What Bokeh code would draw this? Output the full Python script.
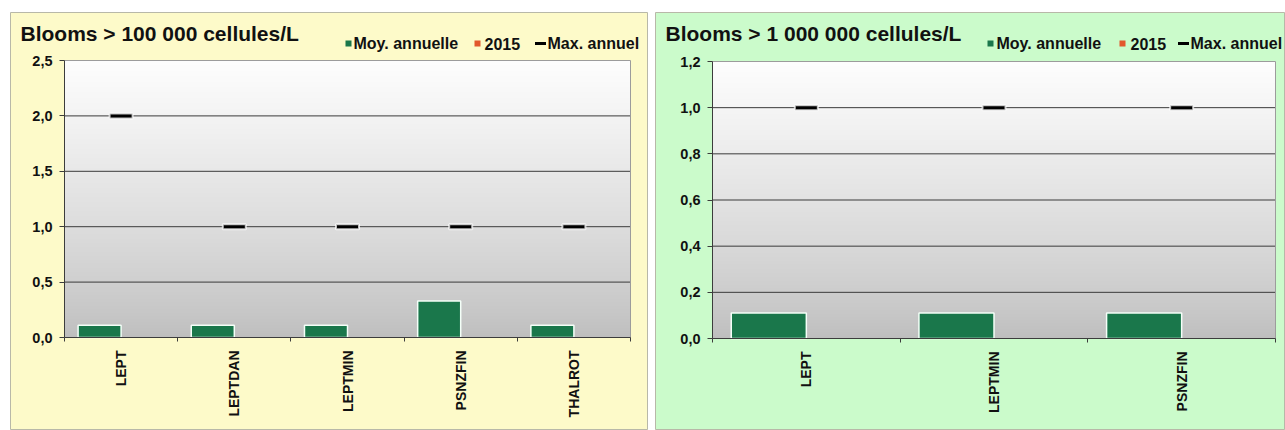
import numpy as np
from bokeh.plotting import figure
from bokeh.models import Range1d, FixedTicker, Label
from bokeh.layouts import row
from bokeh.embed import file_html
from bokeh.resources import INLINE

# ---------------- data ----------------
left_title = "Blooms > 100 000 cellules/L"
left_categories = ["LEPT", "LEPTDAN", "LEPTMIN", "PSNZFIN", "THALROT"]
left_mean = [0.11, 0.11, 0.11, 0.33, 0.11]
left_2015 = [0, 0, 0, 0, 0]
left_max = [2, 1, 1, 1, 1]
left_yticks = [0.0, 0.5, 1.0, 1.5, 2.0, 2.5]
left_ytick_labels = ["0,0", "0,5", "1,0", "1,5", "2,0", "2,5"]

right_title = "Blooms > 1 000 000 cellules/L"
right_categories = ["LEPT", "LEPTMIN", "PSNZFIN"]
right_mean = [0.11, 0.11, 0.11]
right_2015 = [0, 0, 0]
right_max = [1, 1, 1]
right_yticks = [0.0, 0.2, 0.4, 0.6, 0.8, 1.0, 1.2]
right_ytick_labels = ["0,0", "0,2", "0,4", "0,6", "0,8", "1,0", "1,2"]

legend_labels = ["Moy. annuelle", "2015", "Max. annuel"]

# ---------------- style ----------------
FONT = "Liberation Sans"
MEAN_COLOR = "#1a774b"
Y2015_COLOR = "#e2572c"
MAX_COLOR = "#000000"
AXIS_COLOR = "#3c3c3c"
GRID_COLOR = "#3a3a3a"
TEXT_COLOR = "#111111"


def gradient_image():
    # vertical grey ramp, row 0 = bottom of the plot area
    n = 256
    t = np.linspace(0.0, 1.0, n)
    g = (190 + (254 - 190) * t ** 0.8).astype(np.uint8)
    rgba = np.zeros((n, 1, 4), dtype=np.uint8)
    rgba[:, 0, 0] = g
    rgba[:, 0, 1] = g
    rgba[:, 0, 2] = g
    rgba[:, 0, 3] = 255
    return rgba.view(dtype=np.uint32).reshape((n, 1))


def make_panel(title, cats, mean, y2015, ymax, yticks, ytick_labels, bg,
               page_x, page_y, width, height, area, bar_w, legend_pos):
    """One chart panel.  `area` = (left, right, top, bottom) of the plot
    area in page pixels; the axes are pinned to its left and bottom edges."""
    al, ar, at, ab = area
    n = len(cats)
    top = yticks[-1]
    centers = [i + 0.5 for i in range(n)]
    bounds = list(range(n + 1))

    ppx = (ar - al) / n
    ppy = (ab - at) / top
    x0 = -(al - page_x) / ppx
    x1 = n + (page_x + width - ar) / ppx
    y0 = -(page_y + height - ab) / ppy
    y1 = top + (at - page_y) / ppy

    p = figure(width=width, height=height, output_backend="svg",
               toolbar_location=None,
               x_range=Range1d(x0, x1), y_range=Range1d(y0, y1),
               min_border=0, min_border_left=0, min_border_right=0,
               min_border_top=0, min_border_bottom=0,
               border_fill_color=bg, background_fill_color=bg,
               outline_line_color="#b8b8a8")

    # plot area: gradient, grid lines, border
    p.image_rgba(image=[gradient_image()], x=0, y=0, dw=n, dh=top,
                 level="image")
    p.xgrid.visible = False
    p.ygrid.visible = False
    grid_y = yticks[1:-1]
    p.segment(x0=[0] * len(grid_y), x1=[n] * len(grid_y), y0=grid_y,
              y1=grid_y, line_color=GRID_COLOR, line_width=1,
              level="underlay")
    p.segment(x0=[0, n], x1=[n, n], y0=[top, 0], y1=[top, top],
              line_color="#9c9c9c", line_width=1, level="underlay")

    # bars: annual mean (left of centre) and 2015 (right of centre)
    x_mean = [c - bar_w / 2 for c in centers]
    x_2015 = [c + bar_w / 2 for c in centers]
    p.vbar(x=x_mean, top=mean, width=bar_w, fill_color=MEAN_COLOR,
           line_color="#f4fff8", line_width=1.5)
    p.vbar(x=x_2015, top=y2015, width=bar_w, fill_color=Y2015_COLOR,
           line_color=None)

    # annual maximum markers
    p.rect(x=centers, y=ymax, width=23, height=5, width_units="screen",
           height_units="screen", fill_color=MAX_COLOR,
           line_color="#ffffff", line_alpha=0.75, line_width=2)

    # x axis pinned to y = 0: names at centres, ticks at category boundaries
    xa = p.xaxis[0]
    xa.fixed_location = 0
    xa.bounds = (0, n)
    xa.ticker = FixedTicker(ticks=centers, minor_ticks=bounds)
    xa.major_label_overrides = {c: name for c, name in zip(centers, cats)}
    xa.major_label_orientation = np.pi / 2
    xa.major_tick_out = 0
    xa.major_tick_in = 0
    xa.minor_tick_out = 4
    xa.minor_tick_in = 0
    xa.minor_tick_line_color = AXIS_COLOR
    xa.axis_line_color = AXIS_COLOR
    xa.major_label_standoff = 9
    xa.major_label_text_font = FONT
    xa.major_label_text_font_style = "bold"
    xa.major_label_text_font_size = "14px"
    xa.major_label_text_color = TEXT_COLOR

    # y axis pinned to x = 0, comma decimals
    ya = p.yaxis[0]
    ya.fixed_location = 0
    ya.bounds = (0, top)
    ya.ticker = FixedTicker(ticks=yticks)
    ya.major_label_overrides = {v: s for v, s in zip(yticks, ytick_labels)}
    ya.major_tick_out = 5
    ya.major_tick_in = 0
    ya.minor_tick_line_color = None
    ya.axis_line_color = AXIS_COLOR
    ya.major_tick_line_color = AXIS_COLOR
    ya.major_label_standoff = 7
    ya.major_label_text_font = FONT
    ya.major_label_text_font_style = "bold"
    ya.major_label_text_font_size = "14.5px"
    ya.major_label_text_color = TEXT_COLOR

    # page pixel -> data helpers for the header row
    def dx(px):
        return x0 + (px - page_x) / ppx

    def dy(py):
        return y1 - (py - page_y) / ppy

    def put(px, py, text, size):
        p.add_layout(Label(x=dx(px), y=dy(py), text=text, text_font=FONT,
                           text_font_size=size, text_font_style="bold",
                           text_color=TEXT_COLOR, text_align="left",
                           text_baseline="middle"))

    put(page_x + 10, 33, title, "21px")

    (sq1, t1, sq2, t2, dash, t3), ly = legend_pos
    p.scatter(x=[dx(sq1), dx(sq2)], y=[dy(ly), dy(ly)], marker="square",
              size=6, fill_color=[MEAN_COLOR, Y2015_COLOR], line_color=None)
    p.rect(x=[dx(dash)], y=[dy(ly)], width=11, height=3,
           width_units="screen", height_units="screen",
           fill_color=MAX_COLOR, line_color=None)
    put(t1, ly, legend_labels[0], "16px")
    put(t2, ly, legend_labels[1], "16px")
    put(t3, ly, legend_labels[2], "16px")
    return p


p1 = make_panel(left_title, left_categories, left_mean, left_2015, left_max,
                left_yticks, left_ytick_labels, "#fdfac9",
                page_x=10, page_y=12, width=638, height=418,
                area=(64, 630, 60, 337), bar_w=0.38,
                legend_pos=((348, 353, 477, 484, 540, 547), 43))
p1.margin = (12, 0, 0, 10)

p2 = make_panel(right_title, right_categories, right_mean, right_2015,
                right_max, right_yticks, right_ytick_labels, "#cbfbcb",
                page_x=655, page_y=12, width=630, height=418,
                area=(712, 1275, 61, 338), bar_w=0.40,
                legend_pos=((990, 996, 1122, 1130, 1183, 1190), 43))
p2.margin = (12, 0, 0, 7)

layout = row(p1, p2)
layout.spacing = 0

with open("out.html", "w") as f:
    f.write(file_html(layout, INLINE))
